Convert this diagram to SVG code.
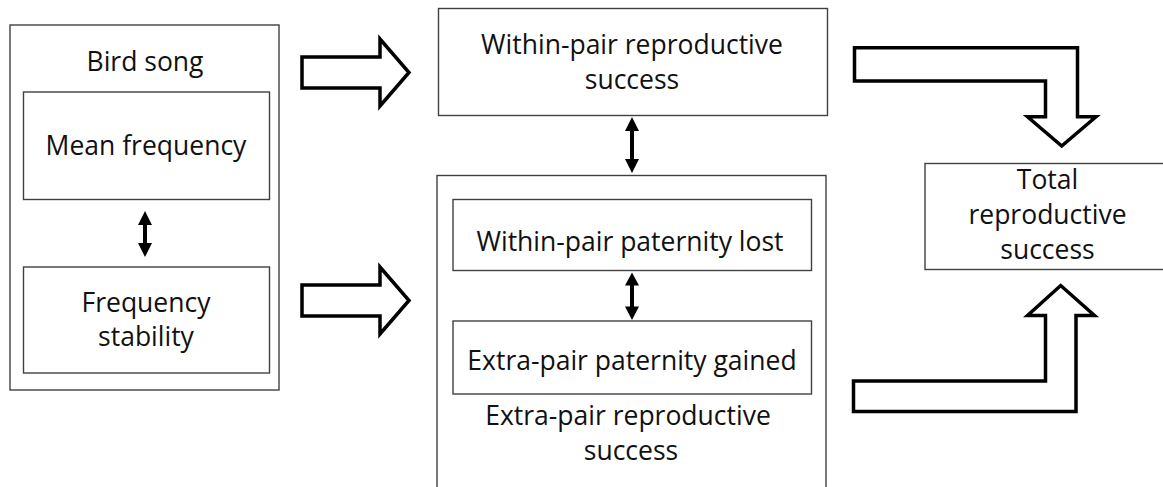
<svg xmlns="http://www.w3.org/2000/svg" width="1163" height="487" viewBox="0 0 1163 487">
<style>
.box{fill:#fff;stroke:#404040;stroke-width:1.4}
.t{font-family:"Open Sans","Noto Sans","Liberation Sans",sans-serif;font-size:26.5px;fill:#111;text-anchor:middle}
.blk{fill:#fff;stroke:#000;stroke-width:3.5;stroke-linejoin:miter}
.dbl{fill:#000}
</style>
<rect width="1163" height="487" fill="#fff"/>
<g id="bird-song">
<rect class="box" x="10" y="25" width="269" height="365"/>
<text class="t" x="145" y="71">Bird song</text>
</g>
<g id="mean-frequency">
<rect class="box" x="23.5" y="92" width="246" height="107.5"/>
<text class="t" x="146" y="155">Mean frequency</text>
</g>
<g id="frequency-stability">
<rect class="box" x="23.5" y="267" width="246" height="106"/>
<text class="t" x="146" y="312">Frequency</text>
<text class="t" x="146" y="346">stability</text>
</g>
<g id="within-pair-rs">
<rect class="box" x="438.5" y="8.5" width="389" height="107"/>
<text class="t" x="632" y="54">Within-pair reproductive</text>
<text class="t" x="632" y="88.5">success</text>
</g>
<g id="extra-pair-rs">
<rect class="box" x="437" y="175.5" width="389" height="330"/>
<text class="t" x="628" y="425">Extra-pair reproductive</text>
<text class="t" x="631" y="459.5">success</text>
</g>
<g id="within-pair-paternity-lost">
<rect class="box" x="453" y="199.5" width="358.5" height="71"/>
<text class="t" x="630" y="251">Within-pair paternity lost</text>
</g>
<g id="extra-pair-paternity-gained">
<rect class="box" x="453" y="321" width="358.5" height="73"/>
<text class="t" x="632" y="370">Extra-pair paternity gained</text>
</g>
<g id="total-rs">
<rect class="box" x="925" y="163.5" width="245" height="106"/>
<text class="t" x="1047.5" y="189">Total</text>
<text class="t" x="1047.5" y="224">reproductive</text>
<text class="t" x="1047.5" y="259">success</text>
</g>
<g id="connectors">
<path class="blk" d="M302,57 H380 V39 L409,72.5 L380,106 V88 H302 Z"/>
<path class="blk" d="M302,285 H380 V267 L409,300.5 L380,334 V316 H302 Z"/>
<path class="blk" d="M854.5,47.8 H1077.5 V116.8 H1096 L1061.7,146 L1027.5,116.8 H1045.5 V81 H854.5 Z"/>
<path class="blk" d="M853.5,411.5 H1076 V315.5 H1094.5 L1060.7,285.5 L1027.5,315.5 H1045.5 V381 H853.5 Z"/>
<path class="dbl" d="M145,211 L152,225 H147 V243 H152 L145,257 L138,243 H143 V225 H138 Z"/>
<path class="dbl" d="M632,117 L639,131 H634 V159 H639 L632,173 L625,159 H630 V131 H625 Z"/>
<path class="dbl" d="M632,272.5 L639,285.5 H634 V306.5 H639 L632,320 L625,306.5 H630 V285.5 H625 Z"/>
</g>
</svg>
